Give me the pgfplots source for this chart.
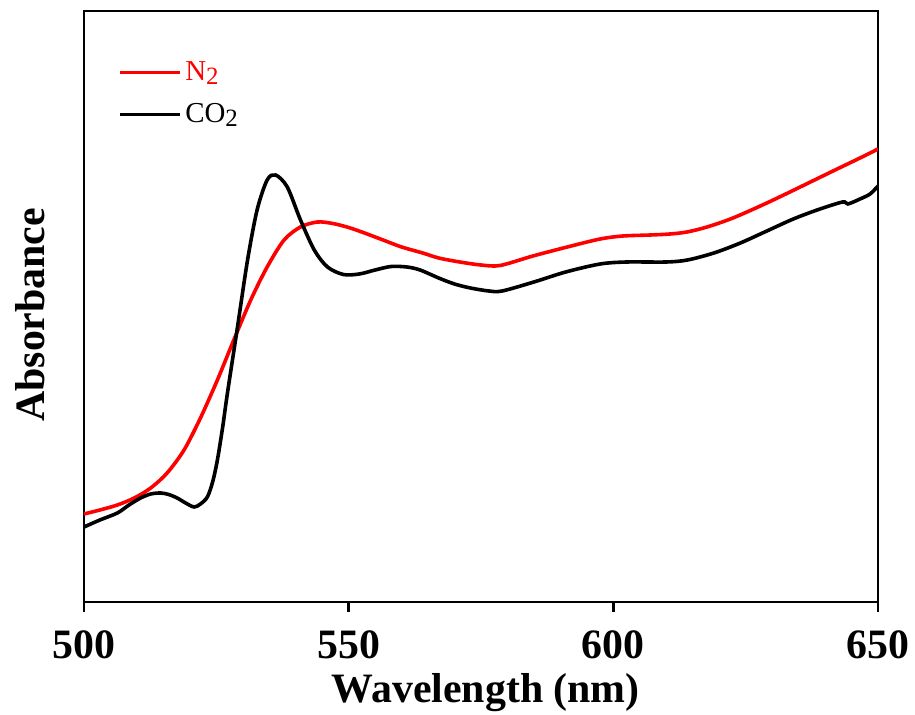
\documentclass[border=0pt]{standalone}
\usepackage{pgfplots}
\pgfplotsset{compat=1.18}
\usepackage{fontspec}
\setmainfont{Liberation Serif}
\newcommand{\sub}[1]{\raisebox{-0.3ex}{\fontsize{12.5}{12}\selectfont #1}}
\begin{document}
\begin{tikzpicture}
\begin{axis}[
  scale only axis,
  width=397bp, height=295.5bp,
  xmin=500, xmax=650, ymin=0, ymax=591,
  xtick={500,550,600,650},
  ytick=\empty,
  tick align=outside,
  major tick length=5bp,
  axis line style={line width=1.4bp},
  every tick/.style={black, line width=1.2bp},
  xtick pos=bottom,
  /pgf/number format/assume math mode=true,
  xticklabel style={font=\fontsize{21}{25}\selectfont\bfseries, anchor=base, yshift=-23bp},
  xlabel={Wavelength (nm)},
  ylabel={Absorbance},
  xlabel style={font=\fontsize{21}{25}\selectfont\bfseries, at={(axis description cs:0.506,-0.154)}, anchor=center},
  ylabel style={font=\fontsize{21}{25}\selectfont\bfseries, at={(axis description cs:-0.068,0.486)}, anchor=center},
  legend cell align=left,
  legend style={draw=none, fill=none, at={(axis description cs:0.042,0.922)}, anchor=north west, font=\fontsize{14.5}{16}\selectfont, row sep=6bp, inner sep=0pt},
  legend image code/.code={\draw[#1, line width=1.8bp] (0bp,0bp) -- (30bp,0bp);},
]
\addplot[red, line width=1.8bp, smooth] table {
x y
500 88
503 92
506.3 97
509.5 104
512.6 114
515.7 129
518.9 152
522 184
525.2 222
528.3 262
531.5 302
534.6 335
537.8 362
540.9 375
544.1 380
547 378.5
550 374.5
553 369
556.5 362
560 355
564 349
567 344
571 340
575 337
578.6 336.5
584.8 346
591.3 355
597.5 363
601.8 366
607 367
610.7 368
613.9 370
617.7 375
622.6 384
629 399
635.3 415
641.5 431
646.6 444
650 453
};
\addlegendentry{\textcolor{red}{N\sub{2}}}
\addplot[black, line width=1.8bp, smooth] table {
x y
500 75
503 82
506.3 89
508.5 97
510.7 104
512.6 108
514.5 109
516 107.5
517.6 104
519.2 99
520.8 95
522 98
523.3 105
524.3 120
525.2 142
526.2 175
527.1 209
529 275
530.9 342
532.7 392
534.6 422
536.2 427
538.4 415
540.9 382
543.5 352
546 335
549 327.5
552 328
555 332
558 335.5
561 335
563.5 332
567 324
570 318
573 314
576.5 311
579 311
585 320
591 330
597.5 338
602.5 340
610 340
614 342
619 349
624 359
629 371
634 383
638.5 392
643.3 400
644.3 398
646.6 403
648.5 408
650 416
};
\addlegendentry{CO\sub{2}}
\end{axis}
\pgfresetboundingbox
\useasboundingbox ([shift={(-42bp,-56.5bp)}]current axis.south west) rectangle ([shift={(18.5bp,5.5bp)}]current axis.north east);
\end{tikzpicture}
\end{document}
